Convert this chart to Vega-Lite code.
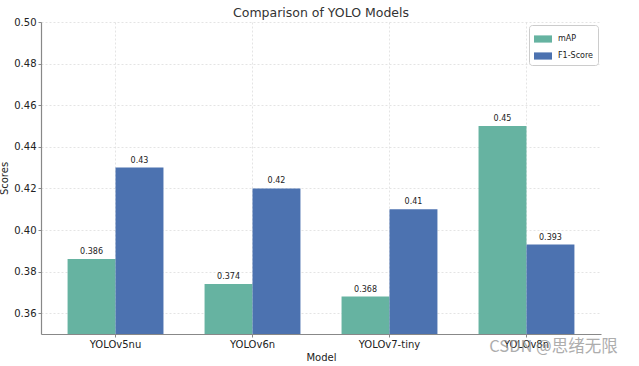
{
  "$schema": "https://vega.github.io/schema/vega-lite/v6.json",
  "width": 560,
  "height": 312,
  "autosize": {"type": "none"},
  "padding": {"left": 41, "top": 22, "right": 38, "bottom": 32},
  "title": {"text": "Comparison of YOLO Models", "fontSize": 12.5, "fontWeight": "normal", "font": "DejaVu Sans", "color": "#333", "offset": -2},
  "config": {
    "font": "DejaVu Sans",
    "view": {"stroke": null},
    "axis": {"labelFont": "DejaVu Sans", "titleFont": "DejaVu Sans", "labelFontSize": 10, "titleFontSize": 10, "titleFontWeight": "normal", "labelColor": "#222", "titleColor": "#222", "domainColor": "#888", "domainWidth": 1.2, "tickColor": "#888", "tickSize": 3, "gridColor": "#ddd", "gridDash": [2, 2], "gridWidth": 0.8}
  },
  "datasets": {
    "scores": [
      {"Model": "YOLOv5nu", "Metric": "mAP", "Score": 0.386, "Label": "0.386"},
      {"Model": "YOLOv5nu", "Metric": "F1-Score", "Score": 0.43, "Label": "0.43"},
      {"Model": "YOLOv6n", "Metric": "mAP", "Score": 0.374, "Label": "0.374"},
      {"Model": "YOLOv6n", "Metric": "F1-Score", "Score": 0.42, "Label": "0.42"},
      {"Model": "YOLOv7-tiny", "Metric": "mAP", "Score": 0.368, "Label": "0.368"},
      {"Model": "YOLOv7-tiny", "Metric": "F1-Score", "Score": 0.41, "Label": "0.41"},
      {"Model": "YOLOv8n", "Metric": "mAP", "Score": 0.45, "Label": "0.45"},
      {"Model": "YOLOv8n", "Metric": "F1-Score", "Score": 0.393, "Label": "0.393"}
    ]
  },
  "layer": [
    {
      "data": {"name": "scores"},
      "mark": {"type": "bar", "clip": true},
      "encoding": {
        "x": {"field": "Model", "type": "nominal", "sort": ["YOLOv5nu", "YOLOv6n", "YOLOv7-tiny", "YOLOv8n"],
              "scale": {"paddingInner": 0.3, "paddingOuter": 0.194},
              "axis": {"title": "Model", "labelAngle": 0, "grid": true, "bandPosition": 0.5, "labelPadding": 2, "titlePadding": 3}},
        "xOffset": {"field": "Metric", "type": "nominal", "sort": ["mAP", "F1-Score"]},
        "y": {"field": "Score", "type": "quantitative", "scale": {"domain": [0.35, 0.5], "zero": false, "nice": false},
              "axis": {"title": "Scores", "values": [0.36, 0.38, 0.4, 0.42, 0.44, 0.46, 0.48, 0.5], "format": ".2f", "grid": true, "labelPadding": 2, "titlePadding": 4}},
        "color": {"field": "Metric", "type": "nominal", "sort": ["mAP", "F1-Score"],
                  "scale": {"domain": ["mAP", "F1-Score"], "range": ["#66b3a1", "#4c72b0"]},
                  "legend": {"title": null, "orient": "top-right", "offset": 3, "labelFontSize": 8, "labelFont": "DejaVu Sans", "labelColor": "#222",
                             "symbolType": "M-1,-0.4H1V0.4H-1Z", "symbolSize": 324, "symbolStrokeWidth": 0, "symbolOpacity": 1,
                             "strokeColor": "#ccc", "fillColor": "white", "padding": 5, "cornerRadius": 3, "rowPadding": 4, "labelOffset": 6}}
      }
    },
    {
      "data": {"name": "scores"},
      "mark": {"type": "text", "baseline": "bottom", "dy": -3, "fontSize": 8, "color": "#222", "font": "DejaVu Sans"},
      "encoding": {
        "x": {"field": "Model", "type": "nominal", "sort": ["YOLOv5nu", "YOLOv6n", "YOLOv7-tiny", "YOLOv8n"]},
        "xOffset": {"field": "Metric", "type": "nominal", "sort": ["mAP", "F1-Score"]},
        "y": {"field": "Score", "type": "quantitative"},
        "text": {"field": "Label", "type": "nominal"}
      }
    },
    {
      "data": {"values": [{"t": "CSDN @思绪无限"}]},
      "mark": {"type": "text", "align": "center", "baseline": "middle", "dx": 27, "fontSize": 16.5, "color": "#999", "opacity": 0.8, "font": "Noto Sans CJK SC"},
      "encoding": {
        "x": {"datum": "YOLOv8n", "type": "nominal"},
        "y": {"datum": 0.3437, "type": "quantitative"},
        "text": {"field": "t", "type": "nominal"}
      }
    }
  ]
}
